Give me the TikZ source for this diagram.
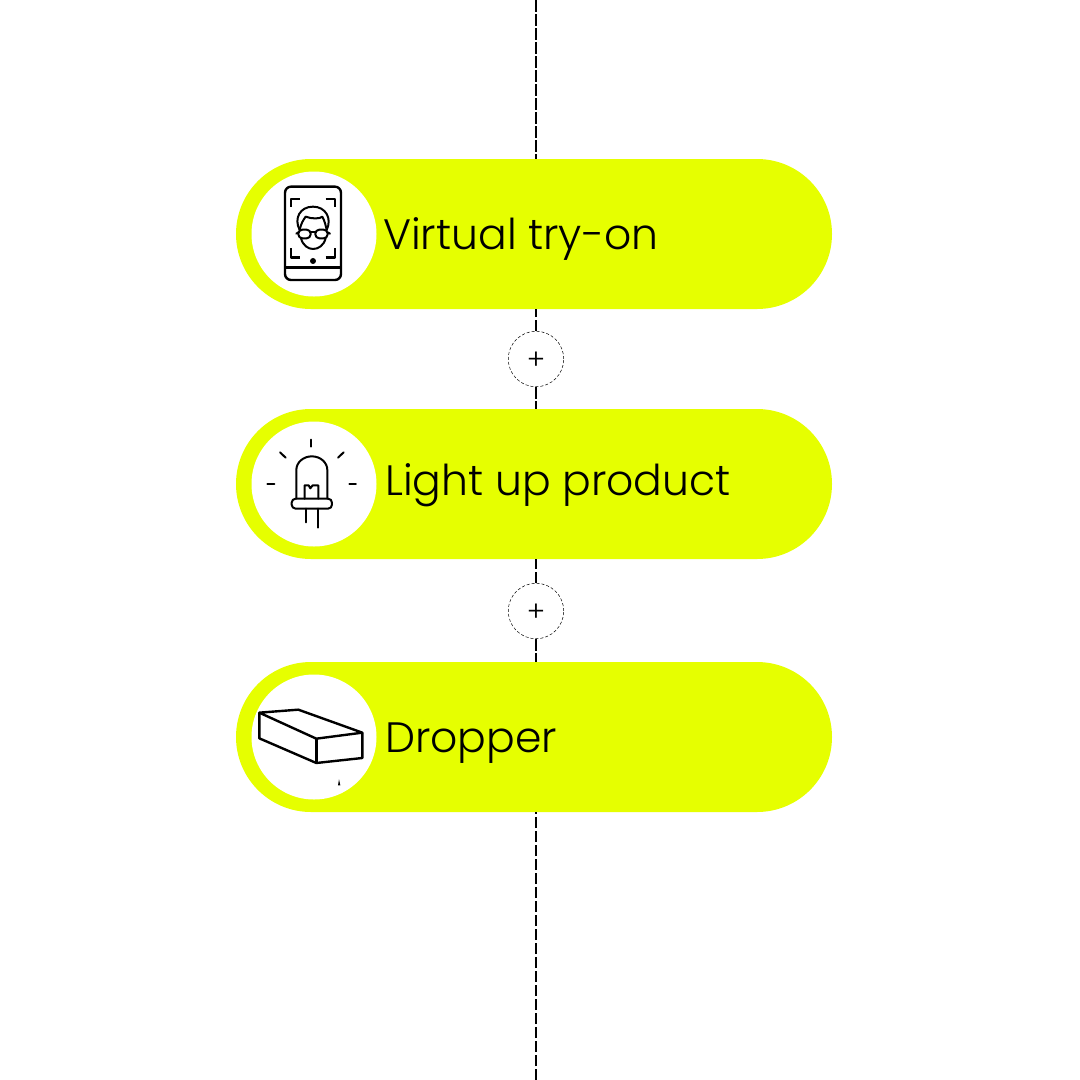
\documentclass[tikz,border=0pt]{standalone}
\usepackage{fontspec}
\setmainfont{Poppins Light}
\usetikzlibrary{shapes.misc}
\definecolor{lime}{HTML}{E6FF00}
\tikzset{
  pill/.style={rounded rectangle, fill=lime, minimum width=596pt, minimum height=150pt, inner sep=0pt, outer sep=0pt},
  badge/.style={circle, fill=white, minimum size=125pt, inner sep=0pt},
  plusbtn/.style={circle, draw=black, line width=0.5pt, densely dashed, fill=white, minimum size=55.5pt, inner sep=0pt, font=\fontsize{28}{28}\selectfont},
  lab/.style={anchor=base west, inner sep=0pt, font=\fontsize{42.5}{48}\selectfont},
  link/.style={draw=black, line width=2pt, dash pattern=on 11.5pt off 2.5pt},
  ico/.style={draw=black, line width=2pt, line cap=round, line join=round},
  icob/.style={draw=black, line width=2.4pt, line join=round},
}
\begin{document}
\begin{tikzpicture}[x=1pt,y=-1pt]
  \useasboundingbox (0,0) rectangle (1080,1080);
  \fill[white] (0,0) rectangle (1080,1080);
  \coordinate (top) at (536,0);
  \coordinate (bottom) at (536,1080);
  \node[pill] (try) at (534,234) {};
  \node[pill] (light) at (534,484) {};
  \node[pill] (drop) at (534,737) {};
  \node[plusbtn] (plusa) at (536,359) {\raisebox{-10.5pt}[0pt][0pt]{+}};
  \node[plusbtn] (plusb) at (536,611) {\raisebox{-10.5pt}[0pt][0pt]{+}};
  \draw[link] (top) -- (top |- try.north);
  \draw[link] (plusa) -- (plusa |- try.south);
  \draw[link] (plusa) -- (plusa |- light.north);
  \draw[link] (plusb) -- (plusb |- light.south);
  \draw[link] (plusb) -- (plusb |- drop.north);
  \draw[link] (bottom) -- (bottom |- drop.south);
  \node[badge] (tryicon) at (314,234) {};
  \node[badge] (lighticon) at (314,484) {};
  \node[badge] (dropicon) at (314,737) {};
  \node[lab] (trytxt) at (383,249) {Virtual try-on};
  \node[lab] (lighttxt) at (385,495) {Light up product};
  \node[lab] (droptxt) at (385,752) {Dropper};
  % phone
  \begin{scope}[shift={(235,155)},x=0.3333pt,y=-0.3333pt]
    \draw[icob,rounded corners=6pt] (150,95) rectangle (318,375);
    \draw[icob] (150,338) -- (318,338);
    \fill (234,318) circle (9);
    \draw[icob] (168,155) -- (168,132) -- (195,132);
    \draw[icob] (272,132) -- (300,132) -- (300,155);
    \draw[icob] (168,280) -- (168,308) -- (195,308);
    \draw[icob] (272,308) -- (300,308) -- (300,280);
    \draw[ico] (194,225) .. controls (176,190) and (195,155) .. (234,155) .. controls (272,155) and (292,190) .. (275,225);
    \draw[ico] (194,225) .. controls (198,205) and (205,195) .. (212,185) .. controls (230,192) and (255,192) .. (262,185) .. controls (268,195) and (272,210) .. (275,225);
    \draw[ico] (198,250) .. controls (204,272) and (220,282) .. (234,282) .. controls (250,282) and (266,272) .. (272,250);
    \draw[ico,rounded corners=4pt] (190,224) rectangle (227,250);
    \draw[ico,rounded corners=4pt] (241,224) rectangle (278,250);
    \draw[ico] (227,230) -- (241,230);
    \draw[ico] (190,232) -- (184,236) (278,232) -- (285,236);
  \end{scope}
  % led
  \begin{scope}[shift={(235,405)},x=0.3333pt,y=-0.3333pt]
    \draw[ico] (229,104) -- (229,125);
    \draw[ico] (135,142) -- (152,158);
    \draw[ico] (326,142) -- (309,158);
    \draw[ico] (97,236) -- (118,236);
    \draw[ico] (343,236) -- (363,236);
    \draw[ico] (184,281) -- (184,195) arc (180:360:46.5 and 41) -- (277,281);
    \draw[ico,rounded corners=4pt] (170,281) rectangle (291,311);
    \draw[ico] (209,281) -- (209,241) -- (221,241) -- (226,250) -- (233,241) -- (250,241) -- (250,281);
    \draw[ico] (212,311) -- (212,352);
    \draw[ico] (248,311) -- (248,368);
  \end{scope}
  % box
  \begin{scope}[shift={(235,660)},x=0.3333pt,y=-0.3333pt]
    \draw[icob] (73,158) -- (190,149) -- (382,218) -- (244,236) -- cycle;
    \draw[icob] (73,158) -- (73,235) -- (244,309) -- (382,294) -- (382,218);
    \draw[icob] (244,236) -- (244,309);
    \fill (309,376) -- (312,358) -- (316,376) -- cycle;
  \end{scope}
\end{tikzpicture}
\end{document}
